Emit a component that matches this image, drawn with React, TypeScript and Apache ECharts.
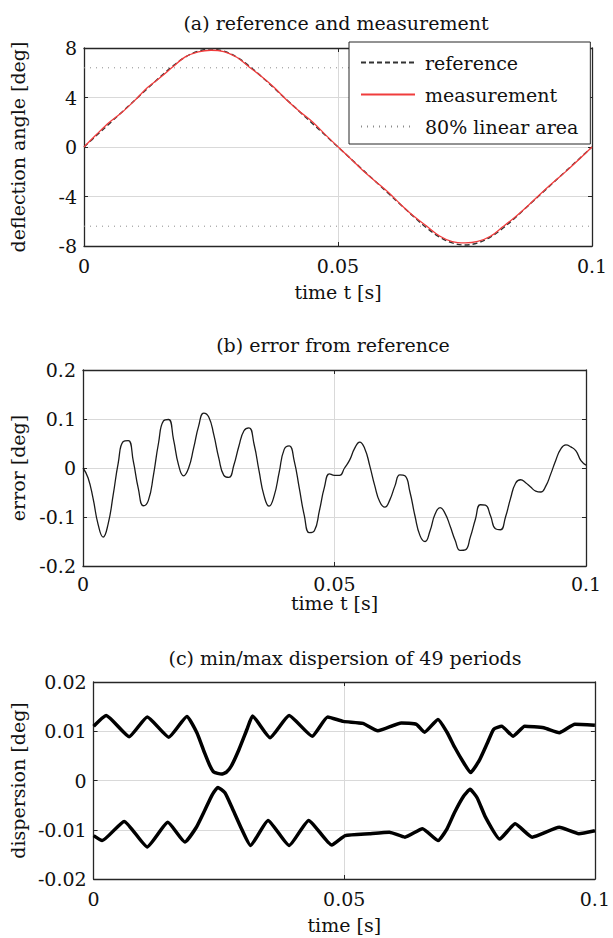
import React, { useEffect, useRef } from 'react';
import * as echarts from 'echarts';

const FONT = '"DejaVu Serif", serif';
const TEXT = '#111111';
const FRAME = '#262626';
const GRID = '#d9d9d9';

// ---------- (a) reference and measurement ----------
const aTime = [
  0, 0.0025, 0.005, 0.0075, 0.01, 0.0125, 0.015, 0.0175, 0.02, 0.0225,
  0.025, 0.0275, 0.03, 0.0325, 0.035, 0.0375, 0.04, 0.0425, 0.045, 0.0475,
  0.05, 0.0525, 0.055, 0.0575, 0.06, 0.0625, 0.065, 0.0675, 0.07, 0.0725,
  0.075, 0.0775, 0.08, 0.0825, 0.085, 0.0875, 0.09, 0.0925, 0.095, 0.0975, 0.1,
];
const aReference = [
  0, 0.945, 1.89, 2.835, 3.78, 4.725, 5.67, 6.55, 7.28, 7.75,
  7.92, 7.75, 7.28, 6.55, 5.67, 4.725, 3.78, 2.835, 1.89, 0.945,
  0, -0.945, -1.89, -2.835, -3.78, -4.725, -5.67, -6.55, -7.28, -7.75,
  -7.92, -7.75, -7.28, -6.55, -5.67, -4.725, -3.78, -2.835, -1.89, -0.945, 0,
];
const aMeasurement = [
  0, 1.03, 2.0, 2.81, 3.77, 4.8, 5.62, 6.48, 7.3, 7.69,
  7.82, 7.71, 7.27, 6.47, 5.68, 4.79, 3.75, 2.85, 2.02, 1.0,
  0.015, -0.953, -1.94, -2.82, -3.7, -4.7, -5.62, -6.41, -7.19, -7.65,
  -7.75, -7.63, -7.21, -6.43, -5.61, -4.7, -3.73, -2.81, -1.93, -0.985, -0.006,
];
const aLinearLimit = [6.4, -6.4];
const aYTicks = { min: -8, max: 8, interval: 4 };

// ---------- (b) error from reference ----------
const bTime = [
  0, 0.001, 0.002, 0.003, 0.004, 0.005, 0.006, 0.007, 0.008, 0.009,
  0.01, 0.011, 0.012, 0.013, 0.014, 0.015, 0.016, 0.017, 0.018, 0.019,
  0.02, 0.021, 0.022, 0.023, 0.024, 0.025, 0.026, 0.027, 0.028, 0.029,
  0.03, 0.031, 0.032, 0.033, 0.034, 0.035, 0.036, 0.037, 0.038, 0.039,
  0.04, 0.041, 0.042, 0.043, 0.044, 0.045, 0.046, 0.047, 0.048, 0.049,
  0.05, 0.051, 0.052, 0.053, 0.054, 0.055, 0.056, 0.057, 0.058, 0.059,
  0.06, 0.061, 0.062, 0.063, 0.064, 0.065, 0.066, 0.067, 0.068, 0.069,
  0.07, 0.071, 0.072, 0.073, 0.074, 0.075, 0.076, 0.077, 0.078, 0.079,
  0.08, 0.081, 0.082, 0.083, 0.084, 0.085, 0.086, 0.087, 0.088, 0.089,
  0.09, 0.091, 0.092, 0.093, 0.094, 0.095, 0.096, 0.097, 0.098, 0.099, 0.1,
];
const bError = [
  0, -0.02, -0.062, -0.115, -0.141, -0.114, -0.055, 0.01, 0.054, 0.056,
  0.014, -0.042, -0.077, -0.066, -0.015, 0.05, 0.096, 0.099, 0.058, 0.006,
  -0.016, 0.0, 0.041, 0.086, 0.112, 0.104, 0.068, 0.02, -0.015, -0.019,
  0.006, 0.045, 0.076, 0.082, 0.049, -0.006, -0.057, -0.078, -0.057, -0.009,
  0.038, 0.045, 0.014, -0.041, -0.097, -0.132, -0.128, -0.087, -0.039, -0.012,
  -0.015, -0.015, 0.0, 0.016, 0.04, 0.053, 0.04, 0.005, -0.036, -0.069,
  -0.08, -0.065, -0.037, -0.014, -0.016, -0.049, -0.098, -0.138, -0.15, -0.128,
  -0.094, -0.081, -0.093, -0.119, -0.148, -0.168, -0.167, -0.141, -0.105, -0.075,
  -0.076, -0.097, -0.124, -0.126, -0.1, -0.062, -0.031, -0.024, -0.03, -0.039,
  -0.047, -0.049, -0.037, -0.012, 0.016, 0.039, 0.047, 0.043, 0.035, 0.015, 0.006,
];
const bYTicks = { min: -0.2, max: 0.2, interval: 0.1 };

// ---------- (c) min/max dispersion of 49 periods ----------
const cUpperTime = [
  0, 0.0025, 0.0071, 0.0107, 0.015, 0.0186, 0.0206, 0.0221, 0.0232, 0.024,
  0.0255, 0.0265, 0.0275, 0.029, 0.0306, 0.0317, 0.0352, 0.039, 0.0436, 0.0467,
  0.0498, 0.0537, 0.0567, 0.0614, 0.0644, 0.066, 0.0687, 0.0705, 0.072, 0.074,
  0.0752, 0.077, 0.0785, 0.0798, 0.0814, 0.0837, 0.086, 0.0898, 0.0929, 0.096, 0.1,
];
const cUpper = [
  0.011, 0.0132, 0.0089, 0.0129, 0.0088, 0.013, 0.0097, 0.0057, 0.003, 0.0017,
  0.0013, 0.0017, 0.003, 0.0063, 0.0104, 0.0131, 0.0087, 0.0132, 0.009, 0.0129,
  0.012, 0.0116, 0.0101, 0.0117, 0.0114, 0.0098, 0.0124, 0.0098, 0.0068, 0.0033,
  0.0016, 0.0042, 0.0075, 0.0104, 0.011, 0.009, 0.011, 0.0107, 0.0097, 0.0114, 0.0112,
];
const cLowerTime = [
  0, 0.0017, 0.0061, 0.0107, 0.0148, 0.0182, 0.0205, 0.0222, 0.0236, 0.0248,
  0.0262, 0.0276, 0.0295, 0.0313, 0.0348, 0.039, 0.0429, 0.0475, 0.0502, 0.055,
  0.059, 0.0621, 0.0656, 0.0687, 0.0705, 0.072, 0.0738, 0.0751, 0.0765, 0.0782,
  0.081, 0.0841, 0.0875, 0.0929, 0.0968, 0.1,
];
const cLower = [
  -0.0112, -0.0122, -0.0083, -0.0135, -0.0085, -0.0125, -0.0095, -0.006, -0.003, -0.0014,
  -0.0025, -0.0055, -0.0098, -0.0132, -0.0081, -0.0132, -0.0081, -0.0131, -0.0112, -0.0108,
  -0.0105, -0.0115, -0.0098, -0.0122, -0.0098, -0.0065, -0.0032, -0.0018, -0.0035, -0.0075,
  -0.0119, -0.0088, -0.0115, -0.0095, -0.0108, -0.0102,
];
const cYTicks = { min: -0.02, max: 0.02, interval: 0.01 };

const xTicks = { min: 0, max: 0.1, interval: 0.05 };

const zip = (xs: number[], ys: number[]) => xs.map((x, i) => [x, ys[i]]);

const frameLine = { show: true, onZero: false, lineStyle: { color: FRAME, width: 1.3 } };
const tick = { show: true, inside: true, length: 4, lineStyle: { color: FRAME, width: 1 } };

function xAxes(gridIndex: number, name: string, nameGap: number, labelMargin: number) {
  return [
    {
      type: 'value', gridIndex, position: 'bottom', ...xTicks,
      name, nameLocation: 'middle', nameGap,
      nameTextStyle: { fontFamily: FONT, fontSize: 19, color: TEXT },
      axisLine: frameLine, axisTick: tick,
      axisLabel: { margin: labelMargin, fontFamily: FONT, fontSize: 19, color: TEXT },
      splitLine: { show: true, lineStyle: { color: GRID, width: 1 } },
    },
    {
      type: 'value', gridIndex, position: 'top', ...xTicks,
      axisLine: frameLine, axisTick: tick,
      axisLabel: { show: false }, splitLine: { show: false },
    },
  ];
}

function yAxes(gridIndex: number, ticks: any, name: string, nameGap: number) {
  return [
    {
      type: 'value', gridIndex, position: 'left', ...ticks,
      name, nameLocation: 'middle', nameGap,
      nameTextStyle: { fontFamily: FONT, fontSize: 19, color: TEXT },
      axisLine: frameLine, axisTick: tick,
      axisLabel: { margin: 7, fontFamily: FONT, fontSize: 19, color: TEXT },
      splitLine: { show: true, lineStyle: { color: GRID, width: 1 } },
    },
    {
      type: 'value', gridIndex, position: 'right', ...ticks,
      axisLine: frameLine, axisTick: tick,
      axisLabel: { show: false }, splitLine: { show: false },
    },
  ];
}

function title(text: string, x: number, y: number) {
  return {
    type: 'text', x, y, z: 10,
    style: {
      text, fontFamily: FONT, fontSize: 19, fill: TEXT,
      align: 'center', verticalAlign: 'middle',
      textAlign: 'center', textVerticalAlign: 'middle',
    },
  };
}

const option: any = {
  animation: false,
  backgroundColor: '#ffffff',
  grid: [
    { left: 80, top: 48, width: 512, height: 198 },
    { left: 80, top: 370, width: 506, height: 196 },
    { left: 91, top: 682, width: 508, height: 197 },
  ],
  xAxis: [
    ...xAxes(0, 'time t [s]', 36, 10),
    ...xAxes(1, 'time t [s]', 27, 8),
    ...xAxes(2, 'time [s]', 36, 10),
  ],
  yAxis: [
    ...yAxes(0, aYTicks, 'deflection angle [deg]', 57),
    ...yAxes(1, bYTicks, 'error [deg]', 56),
    ...yAxes(2, cYTicks, 'dispersion [deg]', 66),
  ],
  legend: {
    data: ['reference', 'measurement', '80% linear area'],
    orient: 'vertical',
    left: 349, top: 42,
    backgroundColor: '#ffffff',
    borderColor: FRAME, borderWidth: 1,
    padding: [11, 12, 8, 11],
    itemWidth: 54, itemHeight: 14, itemGap: 13,
    itemStyle: { color: 'rgba(0,0,0,0)', borderColor: 'rgba(0,0,0,0)', borderWidth: 0, opacity: 0 },
    textStyle: { fontFamily: FONT, fontSize: 19, color: TEXT, padding: [0, 0, 0, 5] },
    z: 20,
  },
  graphic: [
    title('(a) reference and measurement', 336, 23),
    title('(b) error from reference', 333, 345),
    title('(c) min/max dispersion of 49 periods', 345, 658),
  ],
  series: [
    {
      name: '80% linear area', type: 'line', xAxisIndex: 0, yAxisIndex: 0, symbol: 'none',
      data: [[0, aLinearLimit[0]], [0.1, aLinearLimit[0]]],
      itemStyle: { color: '#8c8c8c' },
      lineStyle: { color: '#8c8c8c', width: 1, type: [1, 5] },
    },
    {
      name: '80% linear area', type: 'line', xAxisIndex: 0, yAxisIndex: 0, symbol: 'none',
      data: [[0, aLinearLimit[1]], [0.1, aLinearLimit[1]]],
      itemStyle: { color: '#8c8c8c' },
      lineStyle: { color: '#8c8c8c', width: 1, type: [1, 5] },
    },
    {
      name: 'reference', type: 'line', xAxisIndex: 0, yAxisIndex: 0, symbol: 'none', smooth: 0.35,
      data: zip(aTime, aReference),
      itemStyle: { color: '#333333' },
      lineStyle: { color: '#333333', width: 1.4, type: [5, 3] },
    },
    {
      name: 'measurement', type: 'line', xAxisIndex: 0, yAxisIndex: 0, symbol: 'none', smooth: 0.35,
      data: zip(aTime, aMeasurement),
      itemStyle: { color: '#f03c3c' },
      lineStyle: { color: '#f03c3c', width: 1.3 },
    },
    {
      name: 'error', type: 'line', xAxisIndex: 2, yAxisIndex: 2, symbol: 'none', smooth: 0.5,
      data: zip(bTime, bError),
      lineStyle: { color: '#1a1a1a', width: 1.3 },
    },
    {
      name: 'max dispersion', type: 'line', xAxisIndex: 4, yAxisIndex: 4, symbol: 'none', smooth: 0.15,
      data: zip(cUpperTime, cUpper),
      lineStyle: { color: '#000000', width: 3.5 },
    },
    {
      name: 'min dispersion', type: 'line', xAxisIndex: 4, yAxisIndex: 4, symbol: 'none', smooth: 0.15,
      data: zip(cLowerTime, cLower),
      lineStyle: { color: '#000000', width: 3.5 },
    },
  ],
};

export default function App() {
  const ref = useRef<HTMLDivElement>(null);
  useEffect(() => {
    const chart = echarts.init(ref.current as HTMLDivElement, null, { renderer: 'svg' });
    chart.setOption(option);
    return () => chart.dispose();
  }, []);
  return (
    <div
      ref={ref}
      style={{ position: 'fixed', left: 0, top: 0, width: 613, height: 938, background: '#ffffff' }}
    />
  );
}
